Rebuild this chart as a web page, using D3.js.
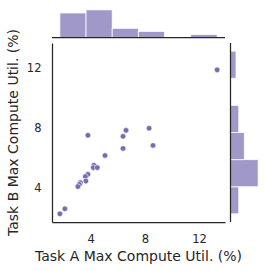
<!DOCTYPE html>
<html>
<head>
<meta charset="utf-8">
<script src="https://cdn.jsdelivr.net/npm/d3@7"></script>
<style>
  body { margin: 0; background: #fff; }
  text { font-family: "DejaVu Sans", sans-serif; fill: #262626; }
</style>
</head>
<body>
<div id="chart"></div>
<script>
// scatter values (Task A, Task B)
var taskA = [13.33, 3.80, 6.61, 6.39, 8.31, 8.60, 6.39, 5.06, 4.24, 4.20, 4.49, 3.80, 3.61, 3.65, 3.24, 3.17, 3.06, 2.10, 1.73];
var taskB = [11.87, 7.50, 7.83, 7.43, 7.97, 6.82, 6.62, 6.15, 5.50, 5.34, 5.34, 4.89, 4.74, 4.44, 4.34, 4.22, 4.07, 2.59, 2.25];

// marginal histograms
var xEdges = [1.73, 3.66, 5.59, 7.52, 9.45, 11.38, 13.33];
var topCounts = [8, 9, 3, 2, 0, 1];
var yEdges = [2.25, 4.06, 5.87, 7.68, 9.50, 11.31, 13.12];
var rightCounts = [3, 10, 5, 3, 0, 2];

var xTicks = [4, 8, 12],
    yTicks = [4, 8, 12];

var color = "#766cb2";

var svg = d3.select("#chart").append("svg")
    .attr("width", 267)
    .attr("height", 271),
    main = {left: 52, top: 43, right: 225, bottom: 222},
    gap = 5.5,
    marg = 29;

function padded(vals) {
    var e = d3.extent(vals), p = (e[1] - e[0]) * 0.05;
    return [e[0] - p, e[1] + p];
}

var x = d3.scaleLinear()
    .domain(padded(taskA.concat(xEdges)))
    .range([main.left, main.right]);
var y = d3.scaleLinear()
    .domain(padded(taskB.concat(yEdges)))
    .range([main.bottom, main.top]);

var topBase = main.top - gap,
    rightBase = main.right + gap;
var hTop = d3.scaleLinear().domain([0, d3.max(topCounts) * 1.05]).range([topBase, topBase - marg]);
var wRight = d3.scaleLinear().domain([0, d3.max(rightCounts) * 1.05]).range([rightBase, rightBase + marg]);

// top histogram
svg.append("g").selectAll("rect")
    .data(topCounts)
    .enter().append("rect")
        .attr("x", function(d, i) { return x(xEdges[i]); })
        .attr("width", function(d, i) { return x(xEdges[i + 1]) - x(xEdges[i]); })
        .attr("y", function(d) { return hTop(d); })
        .attr("height", function(d) { return topBase - hTop(d); })
        .attr("fill", color)
        .attr("fill-opacity", 0.7)
        .attr("stroke", "#fff")
        .attr("stroke-width", 0.8);

// right histogram
svg.append("g").selectAll("rect")
    .data(rightCounts)
    .enter().append("rect")
        .attr("y", function(d, i) { return y(yEdges[i + 1]); })
        .attr("height", function(d, i) { return y(yEdges[i]) - y(yEdges[i + 1]); })
        .attr("x", rightBase)
        .attr("width", function(d) { return wRight(d) - rightBase; })
        .attr("fill", color)
        .attr("fill-opacity", 0.7)
        .attr("stroke", "#fff")
        .attr("stroke-width", 0.8);

// marginal spines
svg.append("line")
    .attr("x1", main.left).attr("x2", main.right)
    .attr("y1", topBase).attr("y2", topBase)
    .attr("stroke", "#262626").attr("stroke-width", 1.25);
svg.append("line")
    .attr("x1", rightBase).attr("x2", rightBase)
    .attr("y1", main.top).attr("y2", main.bottom)
    .attr("stroke", "#262626").attr("stroke-width", 1.25);

// axes
var xAxis = svg.append("g")
    .attr("transform", "translate(0," + main.bottom + ")")
    .call(d3.axisBottom(x).tickValues(xTicks).tickSize(0).tickPadding(13).tickFormat(d3.format("d")));
var yAxis = svg.append("g")
    .attr("transform", "translate(" + main.left + ",0)")
    .call(d3.axisLeft(y).tickValues(yTicks).tickSize(0).tickPadding(10.5).tickFormat(d3.format("d")));

[xAxis, yAxis].forEach(function(a) {
    a.select(".domain").attr("stroke", "#262626").attr("stroke-width", 1.25);
    a.selectAll("text").style("font-size", "11.5px").style("font-family", "DejaVu Sans").attr("fill", "#262626");
});

// points
svg.append("g").selectAll("circle")
    .data(taskA)
    .enter().append("circle")
        .attr("cx", function(d) { return x(d); })
        .attr("cy", function(d, i) { return y(taskB[i]); })
        .attr("r", 2.8)
        .attr("fill", color)
        .attr("stroke", "#fff")
        .attr("stroke-width", 0.6);

// labels
svg.append("text")
    .attr("x", (main.left + main.right) / 2)
    .attr("y", 260.5)
    .attr("text-anchor", "middle")
    .style("font-size", "14px")
    .text("Task A Max Compute Util. (%)");
svg.append("text")
    .attr("transform", "translate(17.5," + (main.top + main.bottom) / 2 + ")rotate(-90)")
    .attr("text-anchor", "middle")
    .style("font-size", "14px")
    .text("Task B Max Compute Util. (%)");
</script>
</body>
</html>
